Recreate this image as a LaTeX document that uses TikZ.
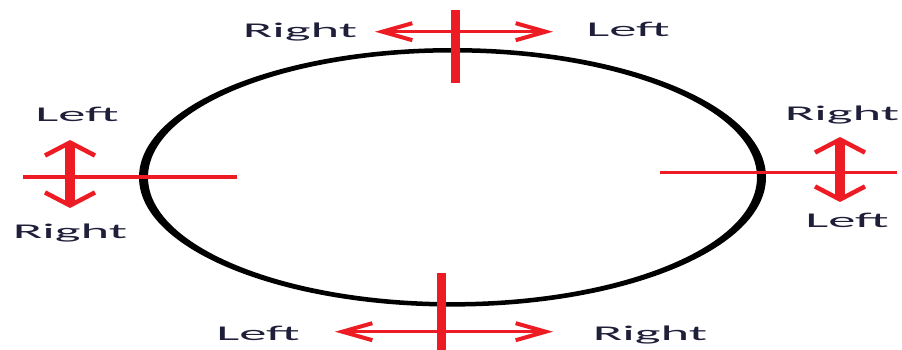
\documentclass[tikz,border=0pt]{standalone}
\usepackage{fontspec}
\setmainfont{Carlito}
\usepackage{tikz}
\usetikzlibrary{arrows.meta}
\definecolor{accent}{HTML}{ED1C24}
\definecolor{labelink}{HTML}{1F1F3A}

\begin{document}
\begin{tikzpicture}[x=1pt,y=-1pt,
  tick/.style={accent,line width=9pt},
  hairline/.style={accent,line width=3.5pt},
  hdir/.style={accent,line width=3.5pt,{Straight Barb[length=30pt,width=17pt,line width=4pt]}-{Straight Barb[length=30pt,width=17pt,line width=4pt]}},
  vdir/.style={accent,line width=10pt,{Straight Barb[length=13pt,width=50pt,line width=4.5pt]}-{Straight Barb[length=13pt,width=50pt,line width=4.5pt]}},
  dirlabel/.style={font=\fontsize{21}{25}\selectfont,text=labelink,xscale=2.6,transform shape,anchor=base,inner sep=0pt}]
\useasboundingbox (0,0) rectangle (902,350);
% ring
\coordinate (c) at (452.5,177.3);
\fill[black,even odd rule] (c) ellipse [x radius=313.5,y radius=129.3] (c) ellipse [x radius=304.5,y radius=124.8];
% red cross lines
\draw[tick] (455.5,10)--(455.5,83);
\draw[tick] (441,273)--(441,350);
\draw[hairline] (23,177)--(237,177);
\draw[hairline] (660,172.5)--(897,172.5);
% arrow ends
\coordinate (topw) at (375,31.7);
\coordinate (tope) at (553,31.7);
\coordinate (botw) at (335,331.7);
\coordinate (bote) at (553,331.7);
\coordinate (lftn) at (70,140);
\coordinate (lfts) at (70,208);
\coordinate (rgtn) at (840,137);
\coordinate (rgts) at (840,202);
\draw[hdir] (topw)--(tope);
\draw[hdir] (botw)--(bote);
\draw[vdir] (lftn)--(lfts);
\draw[vdir] (rgtn)--(rgts);
% labels
\node[dirlabel] (topr) at (300,38) {Right};
\node[dirlabel] (topl) at (628,37) {Left};
\node[dirlabel] (lftl) at (77,122) {Left};
\node[dirlabel] (lftr) at (70,238) {Right};
\node[dirlabel] (rgtr) at (842,121) {Right};
\node[dirlabel] (rgtl) at (847,227) {Left};
\node[dirlabel] (botl) at (258,340) {Left};
\node[dirlabel] (botr) at (650,340) {Right};
\end{tikzpicture}
\end{document}
